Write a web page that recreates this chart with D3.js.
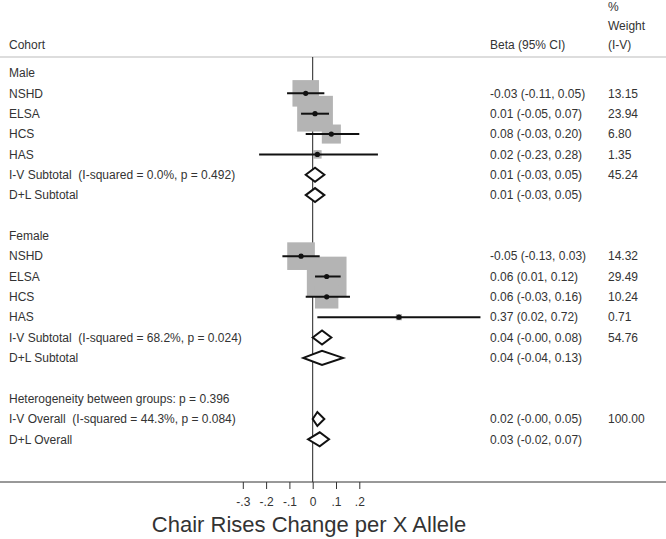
<!DOCTYPE html>
<html>
<head>
<meta charset="utf-8">
<script src="https://cdn.jsdelivr.net/npm/d3@7"></script>
<style>
    body { margin: 0; background: #fff; }
    svg text { font-family: "Liberation Sans", Arial, sans-serif; fill: #333;
        white-space: pre; }
</style>
</head>
<body>
<script>
// Forest plot: chair rises change per X allele, by sex and cohort.
// One entry per row of the plot, top to bottom.
var labels = ["Male", "NSHD", "ELSA", "HCS", "HAS",
    "I-V Subtotal  (I-squared = 0.0%, p = 0.492)", "D+L Subtotal", "",
    "Female", "NSHD", "ELSA", "HCS", "HAS",
    "I-V Subtotal  (I-squared = 68.2%, p = 0.024)", "D+L Subtotal", "",
    "Heterogeneity between groups: p = 0.396",
    "I-V Overall  (I-squared = 44.3%, p = 0.084)", "D+L Overall"];

// "h" = heading, "s" = study, "d" = pooled diamond
var kinds = ["h", "s", "s", "s", "s", "d", "d", "",
    "h", "s", "s", "s", "s", "d", "d", "",
    "h", "d", "d"];

var beta = [null, -0.03, 0.01, 0.08, 0.02, 0.01, 0.01, null,
    null, -0.05, 0.06, 0.06, 0.37, 0.04, 0.04, null,
    null, 0.02, 0.03];
var lower = [null, -0.11, -0.05, -0.03, -0.23, -0.03, -0.03, null,
    null, -0.13, 0.01, -0.03, 0.02, -0.00, -0.04, null,
    null, -0.00, -0.02];
var upper = [null, 0.05, 0.07, 0.20, 0.28, 0.05, 0.05, null,
    null, 0.03, 0.12, 0.16, 0.72, 0.08, 0.13, null,
    null, 0.05, 0.07];
var weight = [null, 13.15, 23.94, 6.80, 1.35, 45.24, null, null,
    null, 14.32, 29.49, 10.24, 0.71, 54.76, null, null,
    null, 100.00, null];

var tickValues = [-0.3, -0.2, -0.1, 0, 0.1, 0.2];
var tickLabels = ["-.3", "-.2", "-.1", "0", ".1", ".2"];

var width = 666,
    height = 539;

var svg = d3.select("body").append("svg")
    .attr("width", width)
    .attr("height", height);

// x: effect size, y: row index
var xScale = d3.scaleLinear().domain([-0.3, 0.2]).range([242.8, 359.3]);
var yScale = d3.scaleLinear().domain([0, 18]).range([73, 439.3]);
var axisY = 482;

// box side grows with the square root of the weight
var boxSide = d3.scaleSqrt().domain([0, 13.15]).range([0, 26.5]);

var rows = labels.map(function(d, i) {
    return {
        label: d, kind: kinds[i], beta: beta[i], lo: lower[i],
        hi: upper[i], w: weight[i], i: i
    };
});

var fmt = d3.format(".2f");
function num(v) {
    // lower bounds of zero are printed as -0.00 in the source
    if (v === 0) return "-0.00";
    return fmt(v).replace("\u2212", "-");
}
function ciText(d) {
    return num(d.beta) + " (" + num(d.lo) + ", " + num(d.hi) + ")";
}

// Header
svg.append("text").attr("x", 9).attr("y", 45).attr("dy", "0.35em")
    .style("font-size", "12px").text("Cohort");
svg.append("text").attr("x", 490).attr("y", 45).attr("dy", "0.35em")
    .style("font-size", "12px").text("Beta (95% CI)");
svg.selectAll(".whead")
    .data(["%", "Weight", "(I-V)"])
    .enter()
    .append("text")
    .attr("class", "whead")
    .attr("x", 608)
    .attr("y", function(d, i) { return 6.5 + i * 19.2; })
    .attr("dy", "0.35em")
    .style("font-size", "12px")
    .text(function(d) { return d; });

svg.append("line")
    .attr("x1", 0).attr("x2", width)
    .attr("y1", 57).attr("y2", 57)
    .attr("stroke", "#bbb").attr("stroke-width", 1.2);

// Zero reference line
svg.append("line")
    .attr("x1", xScale(0)).attr("x2", xScale(0))
    .attr("y1", 57).attr("y2", axisY)
    .attr("stroke", "#222").attr("stroke-width", 1);

var studies = rows.filter(function(d) { return d.kind === "s"; });
var pooled = rows.filter(function(d) { return d.kind === "d"; });

// Weight boxes
svg.selectAll("rect.box")
    .data(studies)
    .enter()
    .append("rect")
    .attr("class", "box")
    .attr("x", function(d) { return xScale(d.beta) - boxSide(d.w) / 2; })
    .attr("y", function(d) { return yScale(d.i) - boxSide(d.w) / 2; })
    .attr("width", function(d) { return boxSide(d.w); })
    .attr("height", function(d) { return boxSide(d.w); })
    .attr("fill", "#b4b4b4");

// Confidence intervals
svg.selectAll("line.ci")
    .data(studies)
    .enter()
    .append("line")
    .attr("class", "ci")
    .attr("x1", function(d) { return xScale(d.lo); })
    .attr("x2", function(d) { return xScale(d.hi); })
    .attr("y1", function(d) { return yScale(d.i); })
    .attr("y2", function(d) { return yScale(d.i); })
    .attr("stroke", "#111").attr("stroke-width", 2);

svg.selectAll("circle.pt")
    .data(studies)
    .enter()
    .append("circle")
    .attr("class", "pt")
    .attr("cx", function(d) { return xScale(d.beta); })
    .attr("cy", function(d) { return yScale(d.i); })
    .attr("r", 2.6)
    .attr("fill", "#111");

// Pooled diamonds
svg.selectAll("path.dia")
    .data(pooled)
    .enter()
    .append("path")
    .attr("class", "dia")
    .attr("d", function(d) {
        var y = yScale(d.i), h = 7;
        return "M" + xScale(d.lo) + "," + y +
            "L" + xScale(d.beta) + "," + (y - h) +
            "L" + xScale(d.hi) + "," + y +
            "L" + xScale(d.beta) + "," + (y + h) + "Z";
    })
    .attr("fill", "#fff")
    .attr("stroke", "#111")
    .attr("stroke-width", 2)
    .attr("stroke-linejoin", "miter");

// Row labels
svg.selectAll("text.lab")
    .data(rows.filter(function(d) { return d.label !== ""; }))
    .enter()
    .append("text")
    .attr("class", "lab")
    .attr("x", 9)
    .attr("y", function(d) { return yScale(d.i); })
    .attr("dy", "0.35em")
    .style("font-size", "12px")
    .text(function(d) { return d.label; });

// Estimates and weights
svg.selectAll("text.est")
    .data(rows.filter(function(d) { return d.beta !== null; }))
    .enter()
    .append("text")
    .attr("class", "est")
    .attr("x", 490)
    .attr("y", function(d) { return yScale(d.i); })
    .attr("dy", "0.35em")
    .style("font-size", "12px")
    .text(ciText);

svg.selectAll("text.wt")
    .data(rows.filter(function(d) { return d.w !== null; }))
    .enter()
    .append("text")
    .attr("class", "wt")
    .attr("x", 608)
    .attr("y", function(d) { return yScale(d.i); })
    .attr("dy", "0.35em")
    .style("font-size", "12px")
    .text(function(d) { return fmt(d.w); });

// Bottom axis
svg.append("line")
    .attr("x1", 0).attr("x2", width)
    .attr("y1", axisY).attr("y2", axisY)
    .attr("stroke", "#333").attr("stroke-width", 1);

var xAxis = d3.axisBottom(xScale)
    .tickValues(tickValues)
    .tickSize(7)
    .tickFormat(function(d, i) { return tickLabels[i]; });

var gx = svg.append("g")
    .attr("transform", "translate(0," + axisY + ")")
    .call(xAxis);
gx.select(".domain").remove();
gx.selectAll("line").attr("stroke", "#333");
gx.selectAll("text")
    .attr("y", 15)
    .style("font-size", "12px")
    .style("font-family", "'Liberation Sans', Arial, sans-serif")
    .attr("fill", "#333");

svg.append("text")
    .attr("x", 309)
    .attr("y", 532)
    .style("text-anchor", "middle")
    .style("font-size", "22px")
    .text("Chair Rises Change per X Allele");
</script>
</body>
</html>
